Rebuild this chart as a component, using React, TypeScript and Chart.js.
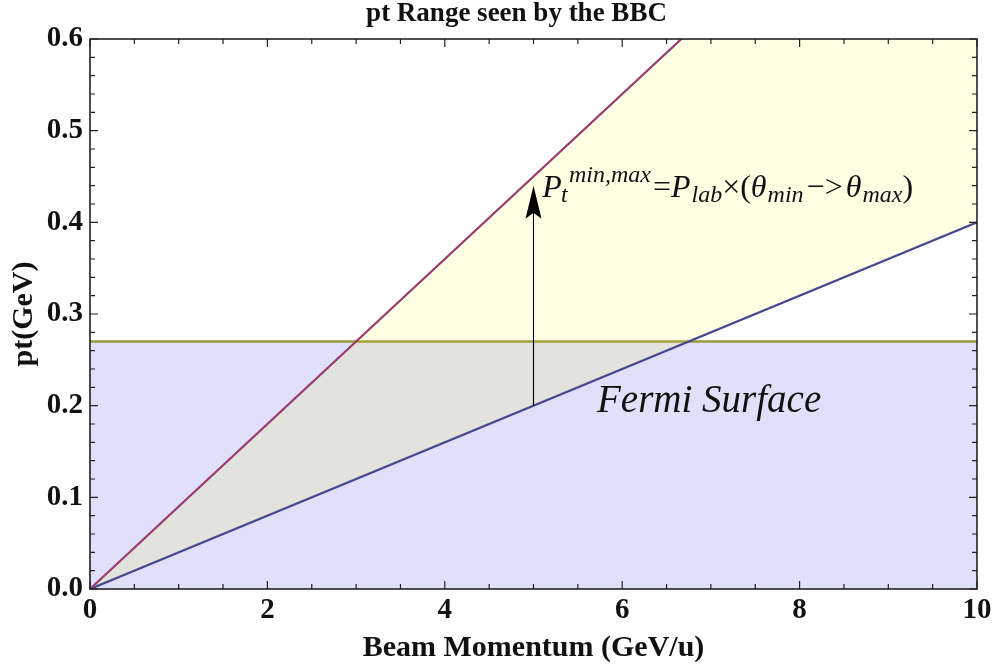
import React, { useEffect, useRef } from 'react';
import { Chart, registerables } from 'chart.js';

Chart.register(...registerables);

// ---- data ----
const beamMomentum = [0, 10];
const ptThetaMax = [0, 0.9]; // upper line (theta max)
const ptThetaMin = [0, 0.4]; // lower line (theta min)
const fermiLevel = [0.27, 0.27]; // Fermi surface

const xTicks = [0, 2, 4, 6, 8, 10];
const xTickLabels = ['0', '2', '4', '6', '8', '10'];
const yTicks = [0, 0.1, 0.2, 0.3, 0.4, 0.5, 0.6];
const yTickLabels = ['0.0', '0.1', '0.2', '0.3', '0.4', '0.5', '0.6'];

const arrowX = [5];
const arrowY = [0.2, 0.44];
const formulaAt = [5.1, 0.4276];
const fermiLabelAt = [5.716, 0.193];

const chartTitle = 'pt Range seen by the BBC';
const xTitle = 'Beam Momentum (GeV/u)';
const yTitle = 'pt(GeV)';
const fermiText = 'Fermi Surface';

const SERIF = '"Liberation Serif", "Times New Roman", serif';

const toPts = (ys: number[]) => beamMomentum.map((x, i) => ({ x, y: ys[i] }));

const framePlugin = {
  id: 'frameTicks',
  afterDatasetsDraw(chart: any) {
    const { ctx, chartArea, scales } = chart;
    const { left, right, top, bottom } = chartArea;
    const xs = scales.x;
    const ys = scales.y;
    ctx.save();
    ctx.strokeStyle = '#222';
    ctx.lineWidth = 1.2;
    // x ticks (minor every 0.5, major every 2)
    for (let i = 0; i <= 20; i++) {
      const v = i * 0.5;
      const px = xs.getPixelForValue(v);
      const len = i % 4 === 0 ? 8 : 5;
      ctx.beginPath();
      ctx.moveTo(px, bottom);
      ctx.lineTo(px, bottom - len);
      ctx.moveTo(px, top);
      ctx.lineTo(px, top + len);
      ctx.stroke();
    }
    // y ticks (minor every 0.02, major every 0.1)
    for (let i = 0; i <= 30; i++) {
      const v = i * 0.02;
      const py = ys.getPixelForValue(v);
      const len = i % 5 === 0 ? 8 : 5;
      ctx.beginPath();
      ctx.moveTo(left, py);
      ctx.lineTo(left + len, py);
      ctx.moveTo(right, py);
      ctx.lineTo(right - len, py);
      ctx.stroke();
    }
    ctx.lineWidth = 1.6;
    ctx.strokeRect(left, top, right - left, bottom - top);
    ctx.restore();
  },
};

const annotationPlugin = {
  id: 'annotations',
  afterDraw(chart: any) {
    const { ctx, chartArea, scales } = chart;
    const xs = scales.x;
    const ys = scales.y;
    ctx.save();

    // title
    ctx.fillStyle = '#111';
    ctx.font = `bold 27px ${SERIF}`;
    ctx.textAlign = 'center';
    ctx.textBaseline = 'alphabetic';
    ctx.fillText(chartTitle, (chartArea.left + chartArea.right) / 2 - 17, 21);

    // arrow
    const ax = xs.getPixelForValue(arrowX[0]);
    const ay0 = ys.getPixelForValue(arrowY[0]);
    const ay1 = ys.getPixelForValue(arrowY[1]);
    ctx.strokeStyle = '#000';
    ctx.lineWidth = 1.1;
    ctx.beginPath();
    ctx.moveTo(ax, ay0);
    ctx.lineTo(ax, ay1 + 20);
    ctx.stroke();
    ctx.fillStyle = '#000';
    ctx.beginPath();
    ctx.moveTo(ax, ay1);
    ctx.lineTo(ax - 8, ay1 + 33);
    ctx.lineTo(ax, ay1 + 27);
    ctx.lineTo(ax + 8, ay1 + 33);
    ctx.closePath();
    ctx.fill();

    // formula
    const mainI = `italic 32px ${SERIF}`;
    const mainU = `32px ${SERIF}`;
    const subI = `italic 24px ${SERIF}`;
    let x = xs.getPixelForValue(formulaAt[0]);
    const y = ys.getPixelForValue(formulaAt[1]);
    ctx.textAlign = 'left';
    ctx.fillStyle = '#111';
    const put = (t: string, f: string, dy = 0, adv = true, dx = 0) => {
      ctx.font = f;
      ctx.fillText(t, x + dx, y + dy);
      const w = ctx.measureText(t).width;
      if (adv) x += w + dx;
      return w;
    };
    put('P', mainI);
    put('t', subI, 5, false, -1);
    put('min,max', subI, -15, true, 7);
    x += 2;
    put('=', mainU);
    put('P', mainI);
    put('lab', subI, 5, true, 1);
    put('×', mainU);
    put('(', mainU);
    put('θ', mainI);
    put('min', subI, 5, true, 1);
    x += 3;
    put('−>', mainU);
    x += 3;
    put('θ', mainI);
    put('max', subI, 5, true, 1);
    put(')', mainU);

    // Fermi surface label
    ctx.font = `italic 39px ${SERIF}`;
    ctx.fillStyle = '#111';
    ctx.fillText(fermiText, xs.getPixelForValue(fermiLabelAt[0]), ys.getPixelForValue(fermiLabelAt[1]));

    ctx.restore();
  },
};

export default function App() {
  const ref = useRef<HTMLCanvasElement | null>(null);

  useEffect(() => {
    if (!ref.current) return;
    const tickFont = { family: SERIF, size: 29, weight: 'bold' as const };
    const titleFont = { family: SERIF, size: 30, weight: 'bold' as const, lineHeight: 1 };
    const chart = new Chart(ref.current, {
      type: 'line',
      data: {
        datasets: [
          {
            label: 'theta max',
            data: toPts(ptThetaMax),
            borderColor: '#993d71',
            borderWidth: 2.2,
            pointRadius: 0,
            fill: '+1',
            backgroundColor: 'rgba(255,255,0,0.11)',
          },
          {
            label: 'theta min',
            data: toPts(ptThetaMin),
            borderColor: '#3d3d99',
            borderWidth: 2.2,
            pointRadius: 0,
            fill: false,
          },
          {
            label: 'Fermi surface',
            data: toPts(fermiLevel),
            borderColor: '#99993d',
            borderWidth: 2.5,
            pointRadius: 0,
            fill: 'origin',
            backgroundColor: 'rgb(224,224,250)',
          },
        ],
      },
      options: {
        animation: false,
        responsive: false,
        maintainAspectRatio: false,
        layout: { padding: { top: 39, right: 19, left: 0, bottom: 0 } },
        plugins: {
          legend: { display: false },
          tooltip: { enabled: false },
          title: { display: false },
        },
        scales: {
          x: {
            type: 'linear',
            min: 0,
            max: 10,
            afterBuildTicks: (s: any) => {
              s.ticks = xTicks.map((v) => ({ value: v }));
            },
            afterFit: (s: any) => {
              s.height = 80;
            },
            ticks: {
              callback: (_v: any, i: number) => xTickLabels[i],
              font: tickFont,
              color: '#111',
              padding: 4,
              maxRotation: 0,
              autoSkip: false,
            },
            grid: { display: false, drawTicks: false },
            border: { display: false },
            title: {
              display: true,
              text: xTitle,
              font: titleFont,
              color: '#111',
              padding: { top: 0, bottom: 6 },
            },
          },
          y: {
            type: 'linear',
            min: 0,
            max: 0.6,
            afterBuildTicks: (s: any) => {
              s.ticks = yTicks.map((v) => ({ value: v }));
            },
            afterFit: (s: any) => {
              s.width = 90;
            },
            ticks: {
              callback: (_v: any, i: number) => yTickLabels[i],
              font: tickFont,
              color: '#111',
              padding: 7,
              autoSkip: false,
            },
            grid: { display: false, drawTicks: false },
            border: { display: false },
            title: {
              display: true,
              text: yTitle,
              font: titleFont,
              color: '#111',
              padding: { top: 9, bottom: 0 },
            },
          },
        },
      },
      plugins: [framePlugin, annotationPlugin],
    } as any);
    return () => chart.destroy();
  }, []);

  return (
    <div style={{ position: 'absolute', left: 0, top: 0, width: 996, height: 669, background: '#fff' }}>
      <canvas ref={ref} width={996} height={669} style={{ display: 'block', width: 996, height: 669 }} />
    </div>
  );
}
